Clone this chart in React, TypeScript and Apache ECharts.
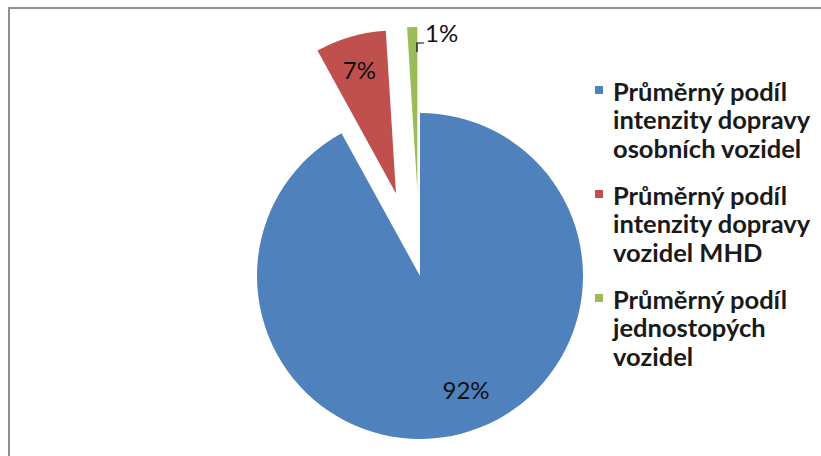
import React, { useEffect, useRef } from "react";
import * as echarts from "echarts";

const categories = [
  "Průměrný podíl\nintenzity dopravy\nosobních vozidel",
  "Průměrný podíl\nintenzity dopravy\nvozidel MHD",
  "Průměrný podíl\njednostopých\nvozidel",
];
const values = [92, 7, 1];
const colors = ["#4F81BD", "#C0504D", "#9BBB59"];
const exploded = [false, true, true];

const FONT = "Lato, 'Open Sans', sans-serif";

export default function App() {
  const ref = useRef<HTMLDivElement>(null);
  useEffect(() => {
    if (!ref.current) return;
    const chart = echarts.init(ref.current, null, { renderer: "svg" });
    const data = categories.map((name, i) => ({
      name,
      value: values[i],
      selected: exploded[i],
      itemStyle: { color: colors[i] },
      label: { show: true, position: "inside" as const },
      labelLine: { show: false },
    }));
    chart.setOption({
      animation: false,
      backgroundColor: "#fff",
      graphic: [
        {
          type: "rect",
          shape: { x: 9, y: 8, width: 840, height: 470 },
          style: { fill: "none", stroke: "#8f8f8f", lineWidth: 2 },
          silent: true,
        },
        {
          type: "polyline",
          z: 10,
          shape: {
            points: [
              [417, 52],
              [417, 43],
              [424, 43],
            ],
          },
          style: { fill: "none", stroke: "#000", lineWidth: 1.2 },
          silent: true,
        },
      ],
      legend: {
        orient: "vertical",
        left: 595,
        top: 76,
        padding: 0,
        itemGap: 18,
        itemWidth: 8,
        itemHeight: 86,
        selectedMode: false,
        icon: "path://M0,0L0.01,0M0,10L8,10L8,18L0,18ZM0,86L0.01,86",
        itemStyle: { borderWidth: 0 },
        data: categories,
        textStyle: {
          fontFamily: FONT,
          fontSize: 25.5,
          fontWeight: "bold",
          lineHeight: 28.5,
          color: "#1a1a1a",
          padding: [0, 0, 0, 5],
        },
      },
      series: [
        {
          type: "pie",
          center: [420, 276],
          radius: [0, 163],
          startAngle: 90,
          clockwise: true,
          selectedMode: "multiple",
          selectedOffset: 86,
          avoidLabelOverlap: false,
          emphasis: { disabled: true },
          itemStyle: { borderWidth: 0 },
          label: {
            formatter: "{d}%",
            fontFamily: FONT,
            fontSize: 24,
            color: "#111",
          },
          labelLayout: (params: any) => {
            if (params.dataIndex === 0) return { dx: 25, dy: 32 };
            if (params.dataIndex === 1) return { dx: -13, dy: -43 };
            return { dx: 27, dy: -73.5 };
          },
          data,
        },
      ],
    });
    return () => chart.dispose();
  }, []);
  return (
    <div
      ref={ref}
      style={{ position: "absolute", left: 0, top: 0, width: 821, height: 456 }}
    />
  );
}
